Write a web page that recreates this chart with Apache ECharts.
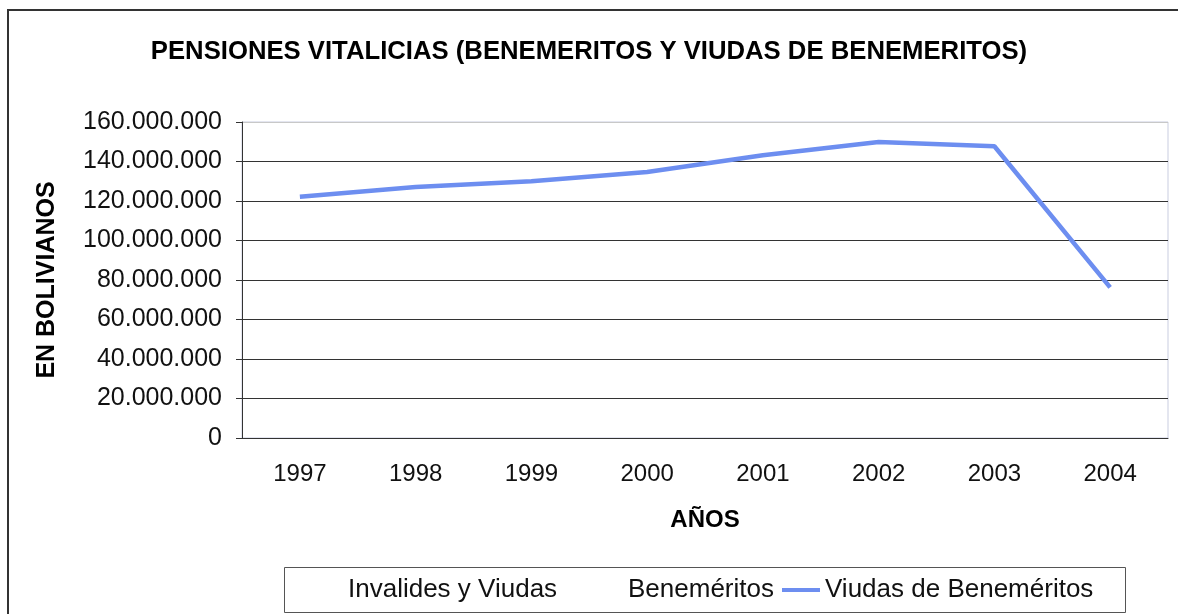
<!DOCTYPE html>
<html>
<head>
<meta charset="utf-8">
<script src="https://cdn.jsdelivr.net/npm/echarts@6/dist/echarts.min.js"></script>
<style>
  html, body { margin: 0; padding: 0; background: #fff; }
  #chart { width: 1178px; height: 614px; }
</style>
</head>
<body>
<div id="chart"></div>
<script>
// datos
const years = ['1997', '1998', '1999', '2000', '2001', '2002', '2003', '2004'];
const invalidesViudas = [];   // sin linea visible en el original
const benemeritos = [];       // sin linea visible en el original
const viudasBenemeritos = [122100000, 127100000, 130000000, 134700000, 143200000, 149900000, 147700000, 76300000];

const font = 'Liberation Sans, Arial, sans-serif';

// 160000000 -> 160.000.000
function miles(v) {
    return String(v).replace(/\B(?=(\d{3})+(?!\d))/g, '.');
}

const chart = echarts.init(document.getElementById('chart'));

const legendBase = {
    orient: 'horizontal',
    top: 577,
    padding: 0,
    icon: 'rect',
    itemHeight: 4,
    selectedMode: false,
    textStyle: { fontFamily: font, fontSize: 26, color: '#111' }
};

chart.setOption({
    backgroundColor: '#fff',
    animation: false,
    title: {
        text: 'PENSIONES VITALICIAS (BENEMERITOS Y VIUDAS DE BENEMERITOS)',
        left: 'center',
        top: 34,
        textStyle: { fontFamily: font, fontSize: 25.7, fontWeight: 'bold', color: '#000' }
    },
    graphic: [
        // marco exterior
        { type: 'rect', shape: { x: 8, y: 10, width: 1200, height: 650 }, style: { fill: 'none', stroke: '#333', lineWidth: 2 } },
        // caja de la leyenda
        { type: 'rect', shape: { x: 284.5, y: 567.5, width: 841, height: 45 }, style: { fill: 'none', stroke: '#555', lineWidth: 1 } }
    ],
    legend: [
        Object.assign({}, legendBase, { data: ['Invalides y Viudas'], left: 303, itemWidth: 40 }),
        Object.assign({}, legendBase, { data: ['Beneméritos'], left: 583, itemWidth: 40 }),
        Object.assign({}, legendBase, { data: ['Viudas de Beneméritos'], left: 782, itemWidth: 38 })
    ],
    grid: {
        left: 242,
        right: 10,
        top: 122,
        bottom: 176,
        show: true,
        borderColor: '#c9cde0',
        borderWidth: 1
    },
    xAxis: {
        type: 'category',
        data: years,
        boundaryGap: true,
        name: 'AÑOS',
        nameLocation: 'middle',
        nameGap: 70,
        nameTextStyle: { fontFamily: font, fontSize: 24, fontWeight: 'bold', color: '#000' },
        axisLine: { lineStyle: { color: '#333', width: 1 } },
        axisTick: { alignWithLabel: false, length: 6, lineStyle: { color: '#333' } },
        axisLabel: { margin: 24, fontFamily: font, fontSize: 24, color: '#111' }
    },
    yAxis: {
        type: 'value',
        min: 0,
        max: 160000000,
        interval: 20000000,
        name: 'EN BOLIVIANOS',
        nameLocation: 'middle',
        nameGap: 182,
        nameRotate: 90,
        nameTextStyle: { fontFamily: font, fontSize: 25, fontWeight: 'bold', color: '#000' },
        axisLine: { show: true, lineStyle: { color: '#333', width: 1 } },
        axisTick: { show: true, length: 6, lineStyle: { color: '#333' } },
        axisLabel: { margin: 20, fontFamily: font, fontSize: 25, color: '#111', formatter: miles },
        splitLine: {
            lineStyle: {
                color: ['#333', '#333', '#333', '#333', '#333', '#333', '#333', '#333', '#c8c8c8'],
                width: 1
            }
        }
    },
    series: [
        { name: 'Invalides y Viudas', type: 'line', data: invalidesViudas, color: '#ffffff', symbol: 'none' },
        { name: 'Beneméritos', type: 'line', data: benemeritos, color: '#ffffff', symbol: 'none' },
        {
            name: 'Viudas de Beneméritos',
            type: 'line',
            data: viudasBenemeritos,
            color: '#6d8ef0',
            symbol: 'none',
            lineStyle: { width: 4.5, color: '#6d8ef0' }
        }
    ]
});
</script>
</body>
</html>
